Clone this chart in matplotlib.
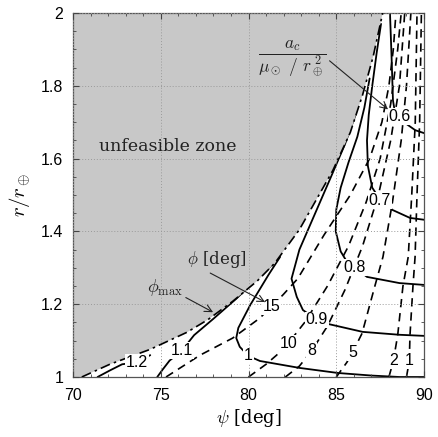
import numpy as np
import matplotlib.pyplot as plt
from matplotlib.ticker import MultipleLocator

plt.rcParams['font.family'] = ['Liberation Sans', 'DejaVu Sans']
plt.rcParams['mathtext.fontset'] = 'cm'

# phi_max boundary (edge of the unfeasible zone)
bnd_psi = [70.5, 72.1, 74.4, 76.5, 77.7, 79.1, 80.5, 81.5, 82.9, 84.8, 85.8, 86.5, 87.1, 87.6, 87.65]
bnd_r = [1.0, 1.035, 1.076, 1.123, 1.158, 1.208, 1.264, 1.313, 1.405, 1.567, 1.672, 1.775, 1.88, 1.99, 2.0]

# a_c / (mu_sun / r_earth^2) contours (solid)
ac_lines = {
    '0.6': ([88.06, 88.15, 88.23, 88.35, 88.6, 89.0, 89.5, 90.0],
            [2.0, 1.88, 1.76, 1.725, 1.715, 1.695, 1.678, 1.67]),
    '0.7': ([87.55, 87.3, 87.05, 86.85, 86.75, 86.8, 87.05, 87.5, 88.2, 89.2, 90.0],
            [1.97, 1.89, 1.80, 1.72, 1.65, 1.58, 1.52, 1.487, 1.459, 1.437, 1.432]),
    '0.8': ([86.9, 86.6, 86.2, 85.7, 85.25, 85.0, 84.97, 85.25, 85.75, 86.07, 86.75, 88.6, 90.0],
            [1.82, 1.74, 1.66, 1.59, 1.52, 1.46, 1.40, 1.345, 1.305, 1.30, 1.275, 1.258, 1.253]),
    '0.9': ([86.1, 85.5, 84.7, 83.8, 82.9, 82.45, 82.75, 83.1, 83.88, 84.6, 86.5, 88.6, 90.0],
            [1.72, 1.64, 1.55, 1.45, 1.35, 1.27, 1.22, 1.184, 1.157, 1.145, 1.124, 1.116, 1.113]),
    '1': ([81.8, 81.13, 80.1, 79.42, 79.3, 79.5, 79.99, 80.65, 82.9, 85.1, 87.0, 88.6, 90.0],
          [1.33, 1.28, 1.198, 1.135, 1.107, 1.083, 1.058, 1.044, 1.025, 1.011, 1.004, 1.0, 1.0]),
    '1.1': ([74.8, 75.1, 75.5, 76.19, 76.9, 78.0, 79.3, 80.6, 81.4],
            [1.0, 1.02, 1.045, 1.072, 1.115, 1.16, 1.215, 1.275, 1.31]),
    '1.2': ([71.4, 72.1, 72.8, 73.63, 74.4],
            [1.0, 1.018, 1.035, 1.04, 1.06]),
}
ac_label_pos = {
    '0.6': (88.6, 1.716), '0.7': (87.49, 1.485), '0.8': (86.07, 1.30),
    '0.9': (83.88, 1.157), '1': (79.99, 1.058), '1.1': (76.19, 1.072),
    '1.2': (73.63, 1.04),
}

# phi [deg] contours (dashed)
phi_lines = {
    '15': ([75.3, 77.24, 79.1, 80.65, 81.97, 82.8, 84.3, 85.8, 86.9, 87.6, 88.0, 88.25, 88.4],
           [1.0, 1.06, 1.107, 1.162, 1.226, 1.27, 1.39, 1.5, 1.6, 1.7, 1.8, 1.9, 2.0]),
    '10': ([80.0, 81.0, 81.6, 82.27, 83.2, 84.5, 85.7, 86.7, 87.5, 88.1, 88.5, 88.7],
           [1.0, 1.035, 1.06, 1.093, 1.15, 1.25, 1.36, 1.48, 1.6, 1.75, 1.9, 2.0]),
    '8': ([82.1, 82.9, 83.6, 84.5, 85.5, 86.5, 87.4, 88.1, 88.6, 88.9],
          [1.0, 1.03, 1.072, 1.14, 1.24, 1.36, 1.5, 1.65, 1.8, 2.0]),
    '5': ([85.0, 85.6, 85.93, 86.47, 87.2, 87.66, 88.2, 88.7, 89.0, 89.25],
          [1.0, 1.04, 1.068, 1.12, 1.25, 1.33, 1.48, 1.65, 1.8, 2.0]),
    '2': ([88.0, 88.25, 88.5, 88.8, 89.1, 89.3, 89.5, 89.6],
          [1.0, 1.044, 1.115, 1.25, 1.33, 1.5, 1.7, 2.0]),
    '1': ([89.0, 89.16, 89.2, 89.37, 89.49, 89.6, 89.75, 89.85],
          [1.0, 1.044, 1.115, 1.25, 1.33, 1.5, 1.7, 2.0]),
}
phi_label_pos = {
    '15': (81.32, 1.193), '10': (82.27, 1.093), '8': (83.6, 1.072),
    '5': (85.93, 1.068), '2': (88.25, 1.044), '1': (89.16, 1.044),
}

fig = plt.figure(figsize=(4.38, 4.37), dpi=100)
ax = fig.add_axes([0.1667, 0.1373, 0.8014, 0.833])

for key, (px, py) in ac_lines.items():
    ax.plot(px, py, color='black', lw=1.3, zorder=1.5, solid_capstyle='round')
for key, (px, py) in phi_lines.items():
    ax.plot(px, py, color='black', lw=1.2, ls=(0, (5, 3.5)), zorder=1.4)

# unfeasible zone
ax.fill(bnd_psi + [70, 70], bnd_r + [2, 1], color='#c8c8c8', zorder=2, lw=0)
ax.plot(bnd_psi, bnd_r, color='black', lw=1.2, ls=(0, (6, 2.5, 1.5, 2.5)), zorder=3)

lab_kw = dict(ha='center', va='center', fontsize=11.5, zorder=4,
              bbox=dict(facecolor='white', edgecolor='none', pad=0.6))
for key, (x, y) in ac_label_pos.items():
    ax.text(x, y, key, **lab_kw)
for key, (x, y) in phi_label_pos.items():
    ax.text(x, y, key, **lab_kw)

ax.text(75.4, 1.633, 'unfeasible zone', family='DejaVu Serif', fontsize=12.5,
        ha='center', va='center', color='#222222', zorder=5)
arw = dict(arrowstyle='->', lw=0.8, color='#222222', shrinkA=0, shrinkB=0)
ax.annotate(r'$\dfrac{a_c}{\mu_\odot\ /\ r_\oplus^{\ 2}}$', xy=(87.95, 1.735),
            xytext=(82.5, 1.875), fontsize=12.5, ha='center', va='center',
            color='#222222', zorder=5, arrowprops=dict(arw, relpos=(1.0, 0.5)))
ax.annotate(r'$\phi$ [deg]', xy=(80.94, 1.206), xytext=(78.2, 1.322),
            fontsize=12, ha='center', va='center', color='#222222', zorder=5,
            family='DejaVu Serif',
            arrowprops=dict(arw, relpos=(0.3, 0.0)))
ax.annotate(r'$\phi_{\rm max}$', xy=(77.98, 1.178), xytext=(75.24, 1.245),
            fontsize=13, ha='center', va='center', color='#222222', zorder=5,
            arrowprops=dict(arw, relpos=(0.9, 0.2)))

ax.set_xlim(70, 90)
ax.set_ylim(1, 2)
ax.xaxis.set_major_locator(MultipleLocator(5))
ax.xaxis.set_minor_locator(MultipleLocator(1))
ax.yaxis.set_major_locator(MultipleLocator(0.2))
ax.yaxis.set_minor_locator(MultipleLocator(0.05))
ax.set_yticks([1, 1.2, 1.4, 1.6, 1.8, 2], ['1', '1.2', '1.4', '1.6', '1.8', '2'])
ax.tick_params(which='both', direction='in', top=True, right=True, labelsize=11.5,
               color='#444444')
ax.tick_params(which='major', length=4)
ax.tick_params(which='minor', length=2.5)
ax.tick_params(axis='x', which='major', pad=8)
ax.tick_params(axis='y', which='major', pad=7)
ax.set_axisbelow(False)
ax.grid(True, which='major', color='#9a9a9a', lw=0.7, ls=(0, (1, 2)))
for s in ax.spines.values():
    s.set_color('#555555')
    s.set_linewidth(0.9)

ax.set_xlabel(r'$\psi$ [deg]', family='DejaVu Serif', fontsize=13, labelpad=3)
ax.set_ylabel(r'$r/r_\oplus$', fontsize=15, labelpad=6)

fig.savefig('out.png', dpi=100)
